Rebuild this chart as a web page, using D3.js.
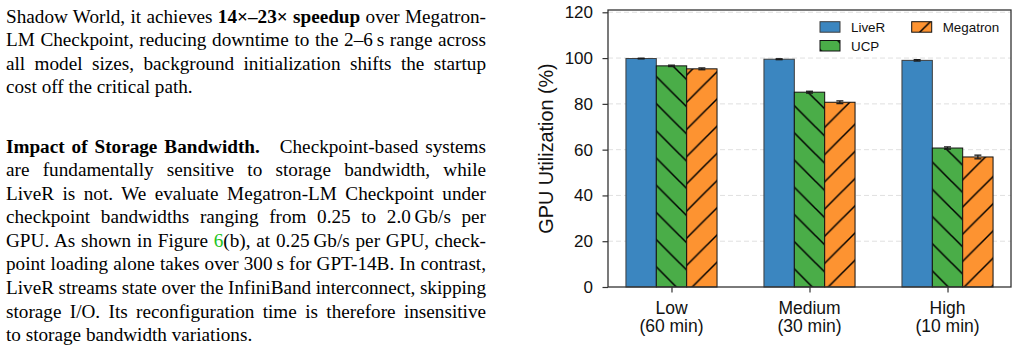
<!DOCTYPE html>
<html>
<head>
<meta charset="utf-8">
<script src="https://cdn.jsdelivr.net/npm/d3@7"></script>
<style>
  html, body { margin: 0; padding: 0; background: #fff; }
  svg { display: block; }
  text { white-space: pre; }
</style>
</head>
<body>
<svg id="fig" width="1018" height="355"></svg>
<script>
// ---------- data ----------
const categories = ["Low", "Medium", "High"];
const categorySub = ["(60 min)", "(30 min)", "(10 min)"];
const seriesNames = ["LiveR", "UCP", "Megatron"];
const liverValues = [99.8, 99.5, 99.0];
const ucpValues = [96.6, 85.1, 60.7];
const megatronValues = [95.3, 80.7, 56.8];
const liverErr = [0.15, 0.2, 0.3];
const ucpErr = [0.3, 0.4, 0.5];
const megatronErr = [0.4, 0.6, 0.8];
const yTicks = [0, 20, 40, 60, 80, 100, 120];
const yLabel = "GPU Utilization (%)";

// prose (paper text beside the figure)
const para1 = [
  [{t: "Shadow World, it achieves "}, {t: "14×–23× speedup", b: true}, {t: " over Megatron-"}],
  [{t: "LM Checkpoint, reducing downtime to the 2–6\u2009s range across"}],
  [{t: "all model sizes, background initialization shifts the startup"}],
  [{t: "cost off the critical path."}]
];
const para2 = [
  [{t: "Impact of Storage Bandwidth.", b: true}, {t: " Checkpoint-based systems", dx: 13}],
  [{t: "are fundamentally sensitive to storage bandwidth, while"}],
  [{t: "LiveR is not. We evaluate Megatron-LM Checkpoint under"}],
  [{t: "checkpoint bandwidths ranging from 0.25 to 2.0\u2009Gb/s per"}],
  [{t: "GPU. As shown in Figure "}, {t: "6", c: "#22c322"}, {t: "(b), at 0.25\u2009Gb/s per GPU, check-"}],
  [{t: "point loading alone takes over 300\u2009s for GPT-14B. In contrast,"}],
  [{t: "LiveR streams state over the InfiniBand interconnect, skipping"}],
  [{t: "storage I/O. Its reconfiguration time is therefore insensitive"}],
  [{t: "to storage bandwidth variations."}]
];

const svg = d3.select("#fig");

// ---------- prose ----------
const textG = svg.append("g")
  .attr("font-family", "'Liberation Serif', 'Times New Roman', serif")
  .attr("font-size", 19.2)
  .attr("fill", "#000");
const tx0 = 6, tW = 480, lineH = 23.55;
function drawPara(lines, y0) {
  lines.forEach((segs, i) => {
    const t = textG.append("text").attr("x", tx0).attr("y", y0 + i * lineH);
    let extra = 0, nSp = 0;
    segs.forEach(s => {
      const sp = t.append("tspan").text(s.t);
      if (s.b) sp.attr("font-weight", "bold");
      if (s.c) sp.attr("fill", s.c);
      if (s.dx) { sp.attr("dx", s.dx); extra += s.dx; }
      nSp += (s.t.match(/ /g) || []).length;
    });
    if (i < lines.length - 1 && nSp > 0) {
      const nat = t.node().getComputedTextLength();
      t.attr("word-spacing", (tW - nat - extra) / nSp);
    }
  });
}
drawPara(para1, 22.8);
drawPara(para2, 152.7);

// ---------- chart ----------
const pL = 608, pR = 1011, pT = 10, pB = 287;
const x = d3.scaleLinear().domain([-0.46, 2.46]).range([pL, pR]);
const y = d3.scaleLinear().domain([0, 121]).range([pB, pT]);
const barW = 0.22;
const colors = ["#3b86c0", "#4aad48", "#fd9331"];
const strokes = ["#3d3d3d", "#111", "#111"];
const values = [liverValues, ucpValues, megatronValues];
const errs = [liverErr, ucpErr, megatronErr];

const defs = svg.append("defs");
const P = 27.2;
function hatch(id, color, dir, shift) {
  const p = defs.append("pattern").attr("id", id)
    .attr("patternUnits", "userSpaceOnUse")
    .attr("width", P).attr("height", P)
    .attr("patternTransform", `translate(0,${shift})`);
  p.append("rect").attr("width", P).attr("height", P).attr("fill", color);
  const d = dir === "back"
    ? `M${-P},${-P}L${2*P},${2*P}M${-P},0L${P},${2*P}M0,${-P}L${2*P},${P}`
    : `M${-P},${2*P}L${2*P},${-P}M${-P},${P}L${P},${-P}M0,${2*P}L${2*P},0`;
  p.append("path").attr("d", d).attr("stroke", "#000").attr("stroke-width", 1.5).attr("fill", "none");
}
hatch("hUCP", colors[1], "back", 18.6);
hatch("hMeg", colors[2], "fwd", 0);
const fills = [colors[0], "url(#hUCP)", "url(#hMeg)"];

const chart = svg.append("g").attr("font-family", "'Liberation Sans', Arial, sans-serif");

// grid
chart.append("g").selectAll("line").data(yTicks.filter(v => v > 0)).join("line")
  .attr("x1", pL).attr("x2", pR)
  .attr("y1", d => y(d)).attr("y2", d => y(d))
  .attr("stroke", "#dcdcdc").attr("stroke-width", 0.9).attr("stroke-dasharray", "5,3");

// bars
seriesNames.forEach((name, si) => {
  const off = (si - 1) * barW;
  const g = chart.append("g");
  g.selectAll("rect").data(values[si]).join("rect")
    .attr("x", (d, i) => x(i + off - barW / 2))
    .attr("width", x(barW) - x(0))
    .attr("y", d => y(d))
    .attr("height", d => y(0) - y(d))
    .attr("fill", fills[si])
    .attr("stroke", strokes[si]).attr("stroke-width", 1);
  // error bars
  const eg = chart.append("g").attr("stroke", "#1a1a1a").attr("stroke-width", 1.3);
  values[si].forEach((v, i) => {
    const cx = x(i + off), e = errs[si][i];
    eg.append("line").attr("x1", cx).attr("x2", cx).attr("y1", y(v - e)).attr("y2", y(v + e));
    eg.append("line").attr("x1", cx - 3.5).attr("x2", cx + 3.5).attr("y1", y(v - e)).attr("y2", y(v - e));
    eg.append("line").attr("x1", cx - 3.5).attr("x2", cx + 3.5).attr("y1", y(v + e)).attr("y2", y(v + e));
  });
});

// frame
chart.append("rect").attr("x", pL).attr("y", pT).attr("width", pR - pL).attr("height", pB - pT)
  .attr("fill", "none").attr("stroke", "#333").attr("stroke-width", 1.3);

// y axis
const yAxis = chart.append("g").attr("transform", `translate(${pL},0)`)
  .call(d3.axisLeft(y).tickValues(yTicks).tickSize(5.5).tickPadding(9.5).tickFormat(d3.format("d")));
yAxis.select(".domain").remove();
yAxis.selectAll(".tick line").attr("stroke", "#333").attr("stroke-width", 1.2);
yAxis.selectAll(".tick text").attr("font-size", 17).attr("fill", "#111")
  .attr("font-family", "'Liberation Sans', Arial, sans-serif");

// x axis
const xAxis = chart.append("g").attr("transform", `translate(0,${pB})`)
  .call(d3.axisBottom(x).tickValues([0, 1, 2]).tickSize(5.5).tickFormat(() => ""));
xAxis.select(".domain").remove();
xAxis.selectAll(".tick line").attr("stroke", "#333").attr("stroke-width", 1.2);
xAxis.selectAll(".tick text").remove();
const xl = chart.append("g").attr("font-size", 17.5).attr("fill", "#111").attr("text-anchor", "middle");
xl.selectAll("text.c1").data(categories).join("text").attr("class", "c1")
  .attr("x", (d, i) => x(i)).attr("y", 314).text(d => d);
xl.selectAll("text.c2").data(categorySub).join("text").attr("class", "c2")
  .attr("x", (d, i) => x(i)).attr("y", 332).text(d => d);

// y label
chart.append("text").attr("transform", `translate(553,${(pT + pB) / 2}) rotate(-90)`)
  .attr("text-anchor", "middle").attr("font-size", 19.8).attr("fill", "#111").text(yLabel);

// legend
const legendItems = [
  {name: seriesNames[0], fill: fills[0], stroke: strokes[0], px: 820, py: 21.7},
  {name: seriesNames[1], fill: fills[1], stroke: strokes[1], px: 820, py: 40.5},
  {name: seriesNames[2], fill: fills[2], stroke: strokes[2], px: 911.7, py: 21.7}
];
const lg = chart.append("g");
legendItems.forEach(it => {
  lg.append("rect").attr("x", it.px).attr("y", it.py).attr("width", 20).attr("height", 10.5)
    .attr("fill", it.fill).attr("stroke", it.stroke).attr("stroke-width", 1);
  lg.append("text").attr("x", it.px + 31).attr("y", it.py + 10.4)
    .attr("font-size", 13.4).attr("fill", "#111").text(it.name);
});
</script>
</body>
</html>
